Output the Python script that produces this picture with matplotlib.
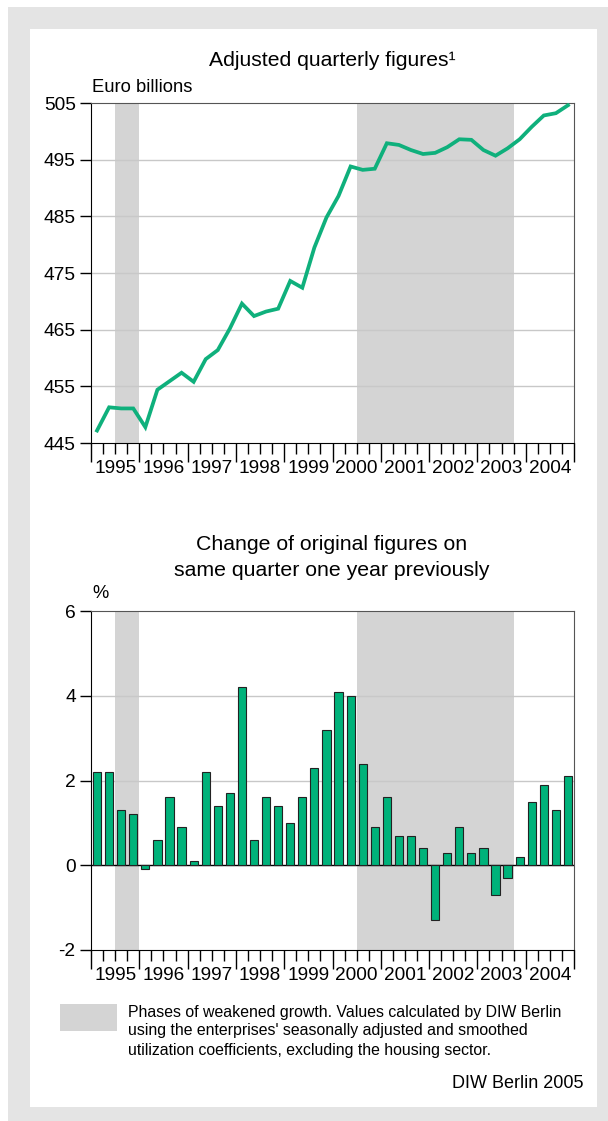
import numpy as np
import matplotlib.pyplot as plt
from matplotlib.patches import Rectangle
from matplotlib.transforms import blended_transform_factory

plt.rcParams['font.family'] = ['Liberation Sans', 'DejaVu Sans']

years = [str(y) for y in range(1995, 2005)]

# adjusted quarterly figures, euro billions, 1995Q1 .. 2004Q4
level = [447.2, 451.3, 451.1, 451.1,
         447.8, 454.4, 455.9, 457.4,
         455.8, 459.8, 461.4, 465.2,
         469.6, 467.4, 468.2, 468.7,
         473.6, 472.4, 479.5, 484.8,
         488.6, 493.8, 493.2, 493.4,
         497.9, 497.6, 496.7, 496.0,
         496.2, 497.2, 498.6, 498.5,
         496.7, 495.7, 497.0, 498.6,
         500.8, 502.8, 503.2, 504.6]

# change on same quarter one year previously, %
change = [2.2, 2.2, 1.3, 1.2,
          -0.1, 0.6, 1.6, 0.9,
          0.1, 2.2, 1.4, 1.7,
          4.2, 0.6, 1.6, 1.4,
          1.0, 1.6, 2.3, 3.2,
          4.1, 4.0, 2.4, 0.9,
          1.6, 0.7, 0.7, 0.4,
          -1.3, 0.3, 0.9, 0.3,
          0.4, -0.7, -0.3, 0.2,
          1.5, 1.9, 1.3, 2.1]

# weakened growth phases, quarter index (start, end)
phases = [(2, 4), (22, 35)]

green = '#0fb07c'
bar_green = '#00b27a'
shade = '#d4d4d4'
grid_c = '#c8c8c8'

W, H = 608, 1121
fig = plt.figure(figsize=(W / 100, H / 100), dpi=100)
fig.patch.set_facecolor('white')

# background panels
fig.patches.append(Rectangle((8 / W, 0), 1, 1 - 7 / H, transform=fig.transFigure,
                             facecolor='#e4e4e4', edgecolor='none', zorder=-10))
fig.patches.append(Rectangle((30 / W, 1 - 1107 / H), (597 - 30) / W, (1107 - 29) / H,
                             transform=fig.transFigure, facecolor='white',
                             edgecolor='none', zorder=-9))

x = np.arange(len(level)) + 0.5


def style_axes(ax, ylim, yticks, grid_vals):
    ax.set_xlim(0, 40)
    ax.set_ylim(*ylim)
    ax.set_facecolor('none')
    for lo, hi in phases:
        ax.axvspan(lo, hi, color=shade, lw=0, zorder=0)
    for g in grid_vals:
        ax.axhline(g, color=grid_c, lw=1, zorder=1)
    ax.set_yticks(yticks)
    ax.set_yticklabels([str(v) for v in yticks])
    ax.tick_params(axis='y', length=8, width=1, labelsize=13.8, pad=3)
    ax.set_xticks(range(0, 41, 4))
    ax.set_xticklabels([])
    ax.set_xticks(range(41), minor=True)
    ax.tick_params(axis='x', which='major', length=14, width=1)
    ax.tick_params(axis='x', which='minor', length=8, width=1)
    for s in ['top', 'right']:
        ax.spines[s].set_color('#555555')
    for s in ['left', 'bottom']:
        ax.spines[s].set_color('black')
    trans = blended_transform_factory(ax.transData, ax.transAxes)
    for i, yr in enumerate(years):
        ax.text(i * 4 + 2, -0.075, yr, transform=trans, ha='center', va='center',
                fontsize=13.7)


# top: adjusted quarterly figures
ax1 = fig.add_axes([91 / W, 1 - 443 / H, (574 - 91) / W, (443 - 103) / H])
style_axes(ax1, (445, 505), list(range(445, 506, 10)), [455, 465, 475, 485, 495])
ax1.plot(x, level, color=green, lw=2.7, solid_joinstyle='miter', zorder=3)
fig.text(332 / W, 1 - 60 / H, 'Adjusted quarterly figures\u00b9',
         ha='center', va='center', fontsize=15.2)
fig.text(92 / W, 1 - 87 / H, 'Euro billions', ha='left', va='center', fontsize=13.2)

# bottom: change on previous year
ax2 = fig.add_axes([91 / W, 1 - 950 / H, (574 - 91) / W, (950 - 611) / H])
style_axes(ax2, (-2, 6), [-2, 0, 2, 4, 6], [2, 4])
ax2.axhline(0, color='black', lw=1, zorder=2)
ax2.bar(x, change, width=0.68, color=bar_green, edgecolor='#222222', lw=0.8, zorder=3)
fig.text(332 / W, 1 - 545 / H, 'Change of original figures on', ha='center',
         va='center', fontsize=15.3)
fig.text(332 / W, 1 - 570 / H, 'same quarter one year previously', ha='center',
         va='center', fontsize=15.3)
fig.text(92 / W, 1 - 593 / H, '%', ha='left', va='center', fontsize=13.2)

# legend
fig.patches.append(Rectangle((60 / W, 1 - 1031 / H), 57 / W, 27 / H,
                             transform=fig.transFigure, facecolor=shade,
                             edgecolor='none'))
legend_lines = ['Phases of weakened growth. Values calculated by DIW Berlin',
                "using the enterprises' seasonally adjusted and smoothed",
                'utilization coefficients, excluding the housing sector.']
for k, line in enumerate(legend_lines):
    fig.text(128 / W, 1 - (1012 + 19 * k) / H, line, ha='left', va='center',
             fontsize=11.4)
fig.text(583 / W, 1 - 1083 / H, 'DIW Berlin 2005', ha='right', va='center',
         fontsize=13)

fig.savefig('out.png', dpi=100)
